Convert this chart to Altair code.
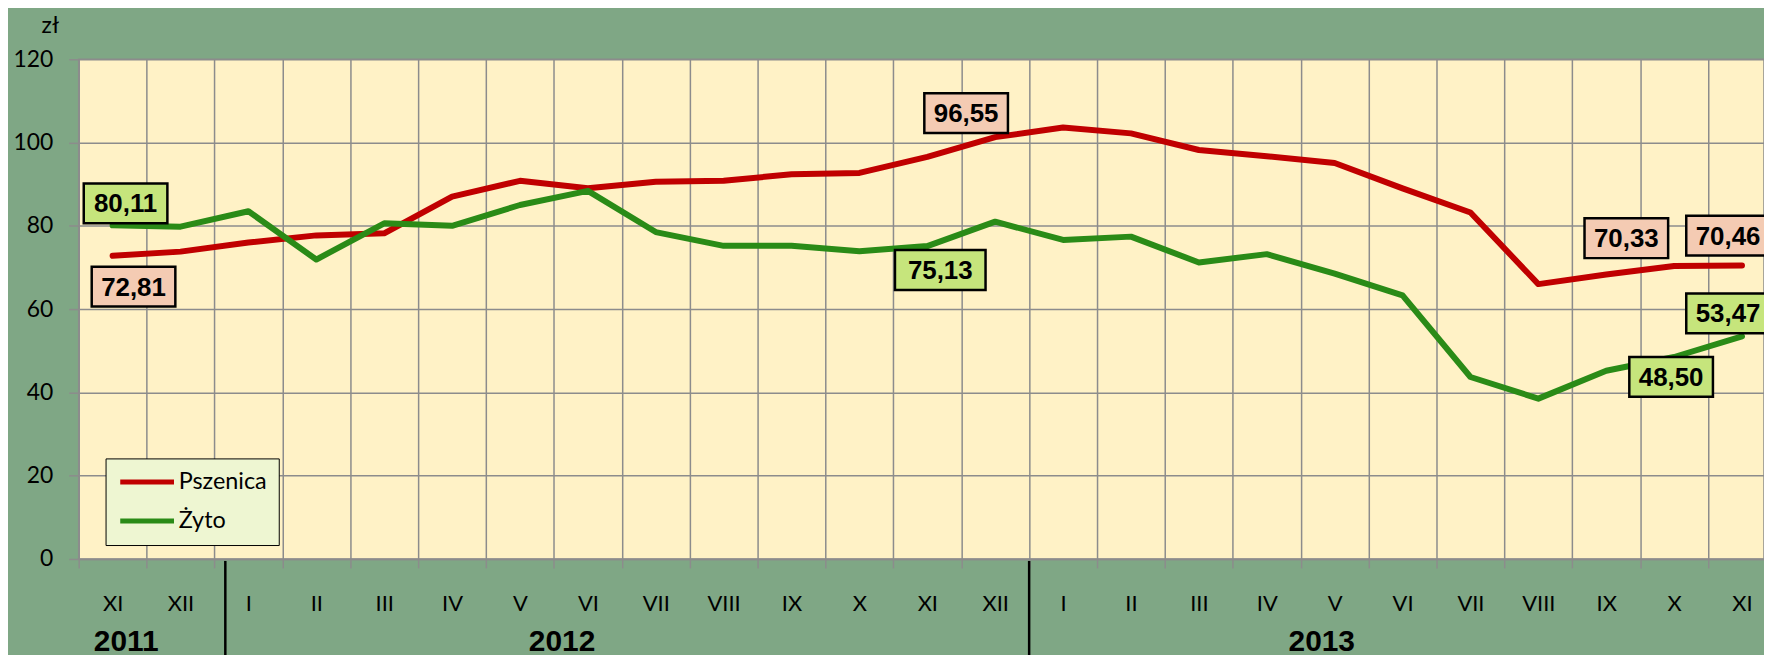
import altair as alt
import pandas as pd

# ---------------- data ----------------
months = ["XI", "XII", "I", "II", "III", "IV", "V", "VI", "VII", "VIII", "IX", "X",
          "XI", "XII", "I", "II", "III", "IV", "V", "VI", "VII", "VIII", "IX", "X", "XI"]
years = ["2011"] * 2 + ["2012"] * 12 + ["2013"] * 11
pszenica = [72.81, 73.8, 76.0, 77.7, 78.2, 87.0, 90.8, 89.0, 90.6, 90.8, 92.4, 92.7,
            96.55, 101.3, 103.6, 102.2, 98.2, 96.7, 95.1, 89.0, 83.2, 66.0, 68.3, 70.33, 70.46]
zyto = [80.11, 79.8, 83.5, 71.9, 80.6, 80.0, 85.0, 88.4, 78.5, 75.2, 75.2, 73.9,
        75.13, 81.0, 76.6, 77.4, 71.2, 73.2, 68.5, 63.3, 43.7, 38.5, 45.2, 48.50, 53.47]
series_names = ["Pszenica", "Żyto"]
year_labels = ["2011", "2012", "2013"]
y_ticks = [0, 20, 40, 60, 80, 100, 120]

keys = [f"{m}|{y}" for m, y in zip(months, years)]
rows = []
for s, vals in zip(series_names, [pszenica, zyto]):
    for k, v in zip(keys, vals):
        rows.append({"key": k, "series": s, "value": v,
                     "label": f"{v:.2f}".replace(".", ",")})
df = pd.DataFrame(rows)

# ---------------- style ----------------
BG = "#7FA785"
PLOT_BG = "#FFF2C6"
GRID = "#8C8C8C"
RED = "#C00000"
GREEN = "#2A8B17"
BOX_RED = "#F4CBB3"
BOX_GREEN = "#C6E57C"
LEG_FILL = "#EEF6D2"
W, H = 1693, 502
BAND = 68.2
RANGE = BAND * len(keys)
AX_FONT = "Lato"
BOLD_FONT = "Liberation Sans"

xscale = alt.Scale(type="band", domain=keys, range=[0, RANGE], paddingInner=0, paddingOuter=0)
yscale = alt.Scale(domain=[0, 120], nice=False, zero=True)

x_axis = alt.Axis(title=None,
                  labelExpr="isString(datum.value) ? split(datum.value, '|')[0] : ''",
                  tickBand="extent",
                  grid=True, gridColor=GRID, gridWidth=1.5, tickColor=GRID, tickSize=9,
                  tickWidth=1.5, domainColor=GRID, domainWidth=1.5, labelFont=AX_FONT,
                  labelFontSize=22, labelColor="black", labelPadding=26, labelAngle=0,
                  labelOverlap=False, labelBaseline="top")


def make_x(bp=0.5):
    return alt.X("key:N", scale=xscale, bandPosition=bp, axis=x_axis)


X = make_x()
Y = alt.Y("value:Q", scale=yscale,
          axis=alt.Axis(values=y_ticks, title="zł", titleAngle=0, titleX=-29, titleY=-27,
                        titleAlign="center", titleBaseline="alphabetic", titleFont=AX_FONT,
                        titleFontSize=23, titleFontWeight="normal", titleColor="black",
                        labelFont=AX_FONT, labelFontSize=23, labelColor="black",
                        grid=True, gridColor=GRID, gridWidth=1.5, tickColor=GRID, tickSize=10,
                        tickWidth=1.5, domainColor=GRID, domainWidth=1.5, labelPadding=16))

lines = alt.Chart(df).mark_line(strokeWidth=6, strokeCap="round", strokeJoin="round").encode(
    x=X, y=Y,
    color=alt.Color("series:N", scale=alt.Scale(domain=series_names, range=[RED, GREEN]),
                    legend=alt.Legend(title=None, orient="none", legendX=27, legendY=401,
                                      direction="vertical", fillColor=LEG_FILL,
                                      strokeColor="black", padding=12,
                                      symbolType="M-9,0H45", symbolSize=4,
                                      symbolStrokeWidth=5, labelOffset=38,
                                      labelFont=AX_FONT, labelFontSize=23.5,
                                      labelColor="black", rowPadding=14)),
    order=alt.Order("series:N"),
)

layers = [lines]

# data label boxes: (series, key index, dx, dy, box width)
annotations = [
    ("Żyto", 0, 13, -22, 84),
    ("Pszenica", 0, 21, 31, 84),
    ("Pszenica", 12, 39, -44, 84),
    ("Żyto", 12, 13, 24, 91),
    ("Pszenica", 23, -48, -28, 84),
    ("Pszenica", 24, -14, -30, 84),
    ("Żyto", 23, -3, 20, 84),
    ("Żyto", 24, -14, -23, 84),
]
BOX_H = 40
for s, idx, dx, dy, bw in annotations:
    sub = df[(df.series == s) & (df.key == keys[idx])]
    path = (f"M{dx - bw / 2},{dy - BOX_H / 2}H{dx + bw / 2}V{dy + BOX_H / 2}"
            f"H{dx - bw / 2}Z")
    fill = BOX_RED if s == "Pszenica" else BOX_GREEN
    box = alt.Chart(sub).mark_point(shape=path, size=4, filled=True, fill=fill, stroke="black",
                                    strokeWidth=2.5, opacity=1, fillOpacity=1).encode(x=X, y=Y)
    txt = alt.Chart(sub).mark_text(dx=dx, dy=dy + 1, font=BOLD_FONT, fontSize=26,
                                   fontWeight="bold", color="black", align="center",
                                   baseline="middle").encode(x=X, y=Y, text="label:N")
    layers += [box, txt]

# year group labels
year_anchor = ["XI|2011", "VI|2012", "V|2013"]
year_band = [0.70, 0.12, 0.31]
for yl, anc, bp in zip(year_labels, year_anchor, year_band):
    ydf = pd.DataFrame({"key": [anc], "year": [yl]})
    layers.append(alt.Chart(ydf).mark_text(font=BOLD_FONT, fontSize=30, fontWeight="bold",
                                           color="black", align="center",
                                           baseline="alphabetic").encode(
        x=make_x(bp), y=alt.value(H + 92), text="year:N"))

# year separators
sep_keys = ["I|2012", "I|2013"]
sep_band = [0.16, 0.0]
for sk, bp in zip(sep_keys, sep_band):
    sdf = pd.DataFrame({"key": [sk]})
    layers.append(alt.Chart(sdf).mark_rule(color="black", strokeWidth=2.5).encode(
        x=make_x(bp), y=alt.value(H + 2), y2=alt.value(H + 120)))

chart = alt.layer(*layers).properties(
    width=W, height=H,
    autosize=alt.AutoSizeParams(type="none"),
    padding={"left": 71, "top": 50, "right": 0, "bottom": 95},
    background=BG,
).configure_view(fill=PLOT_BG, stroke=GRID, strokeWidth=1.5)

chart.save("out.html", embed_options={"renderer": "svg", "actions": False})
